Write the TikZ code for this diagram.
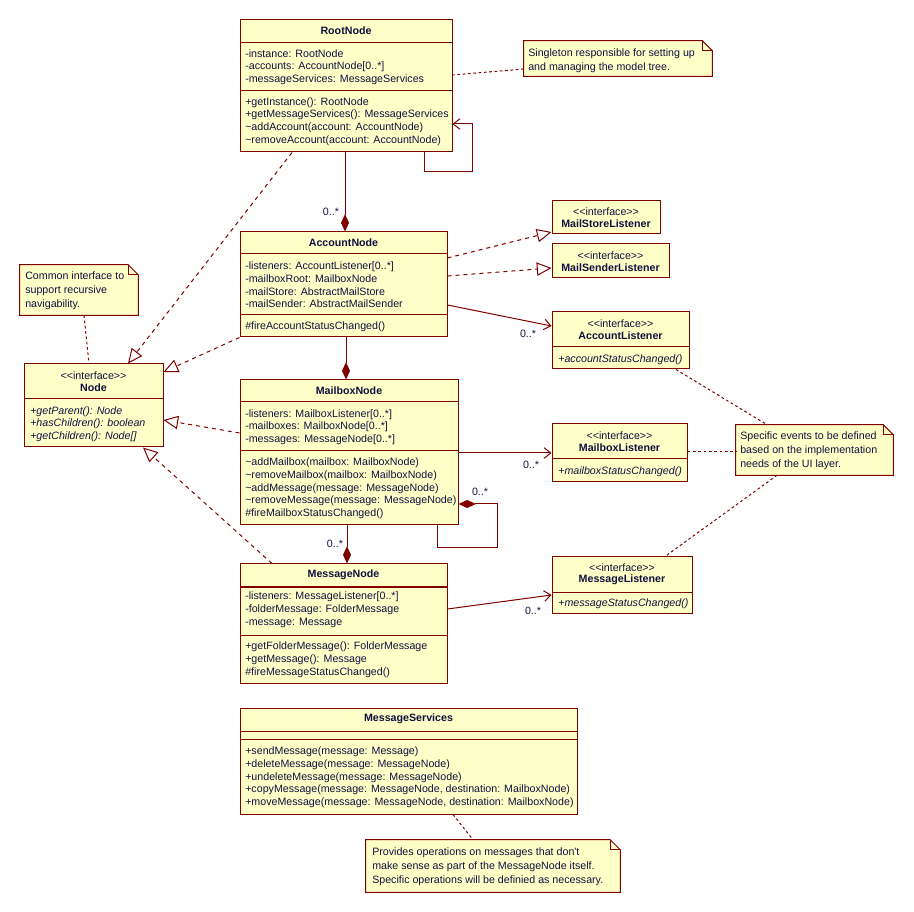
\documentclass[tikz,border=0pt]{standalone}
\usepackage{fontspec}
\setmainfont{Liberation Sans}[Ligatures=TeXOff]
\usetikzlibrary{arrows.meta, fit, positioning}
\definecolor{umlred}{RGB}{128,0,0}
\definecolor{umlfill}{RGB}{255,255,200}
\definecolor{umltext}{RGB}{16,16,64}

\begin{document}
\begin{tikzpicture}[x=0.75pt, y=-0.75pt,
	every node/.style={text=umltext},
	cls/.style={draw=umlred, fill=umlfill, line width=0.75pt, inner sep=0pt},
	notef/.style={draw=umlred, fill=umlfill, line width=0.75pt},
	sep/.style={draw=umlred, line width=0.75pt},
	ttl/.style={font=\bfseries\fontsize{8}{9.5}\selectfont},
	stereo/.style={font=\fontsize{8}{9.5}\selectfont},
	body/.style={anchor=north west, inner sep=0pt, align=left, font=\fontsize{8}{9.5}\selectfont},
	abody/.style={body, font=\itshape\fontsize{8}{9.5}\selectfont},
	ntext/.style={anchor=north west, inner sep=0pt, align=left, font=\fontsize{8}{10.5}\selectfont},
	mult/.style={inner sep=0pt, font=\fontsize{8}{9.5}\selectfont},
	assoc/.style={draw=umlred, line width=0.75pt, -{Straight Barb[length=5pt,width=8pt]}},
	comp/.style={draw=umlred, line width=0.75pt, -{Diamond[length=13pt,width=6pt]}},
	realize/.style={draw=umlred, line width=0.75pt, dash pattern=on 3pt off 3pt, -{Triangle[open,length=11pt,width=10pt]}},
	link/.style={draw=umlred, line width=0.75pt, dash pattern=on 2pt off 2pt}]
	\useasboundingbox (0,0) rectangle (914,912);
	
	% classes
	\node (root) [cls, fit={(240,20)(452,152)}] {};
	\draw[sep] (root.west |- 0,43) -- (root.east |- 0,43);
	\draw[sep] (root.west |- 0,91) -- (root.east |- 0,91);
	\node (rootT) at (root.north |- 0,31) [ttl] {RootNode};
	\node (rootA) at (245,48.1) [body] {\strut-instance: RootNode\\-accounts: AccountNode[0..*]\\-messageServices: MessageServices};
	\node (rootM) at (245,96.1) [body] {\strut+getInstance(): RootNode\\+getMessageServices(): MessageServices\\\textasciitilde addAccount(account: AccountNode)\\\textasciitilde removeAccount(account: AccountNode)};
	
	\node (account) [cls, fit={(240,232)(447,337)}] {};
	\draw[sep] (account.west |- 0,254) -- (account.east |- 0,254);
	\draw[sep] (account.west |- 0,315) -- (account.east |- 0,315);
	\node (accountT) at (account.north |- 0,243) [ttl] {AccountNode};
	\node (accountA) at (245,260.8) [body] {\strut-listeners: AccountListener[0..*]\\-mailboxRoot: MailboxNode\\-mailStore: AbstractMailStore\\-mailSender: AbstractMailSender};
	\node (accountM) at (245,320.1) [body] {\strut\#fireAccountStatusChanged()};
	
	\node (mailbox) [cls, fit={(240,380)(458,525)}] {};
	\draw[sep] (mailbox.west |- 0,402) -- (mailbox.east |- 0,402);
	\draw[sep] (mailbox.west |- 0,451) -- (mailbox.east |- 0,451);
	\node (mailboxT) at (mailbox.north |- 0,391) [ttl] {MailboxNode};
	\node (mailboxA) at (245,408.1) [body] {\strut-listeners: MailboxListener[0..*]\\-mailboxes: MailboxNode[0..*]\\-messages: MessageNode[0..*]};
	\node (mailboxM) at (245,456.8) [body] {\strut\textasciitilde addMailbox(mailbox: MailboxNode)\\\textasciitilde removeMailbox(mailbox: MailboxNode)\\\textasciitilde addMessage(message: MessageNode)\\\textasciitilde removeMessage(message: MessageNode)\\\#fireMailboxStatusChanged()};
	
	\node (message) [cls, fit={(240,564)(447,683)}] {};
	\draw[sep] (message.west |- 0,587) -- (message.east |- 0,587);
	\draw[sep] (message.west |- 0,635) -- (message.east |- 0,635);
	\node (messageT) at (message.north |- 0,575) [ttl] {MessageNode};
	\node (messageA) at (245,590.8) [body] {\strut-listeners: MessageListener[0..*]\\-folderMessage: FolderMessage\\-message: Message};
	\node (messageM) at (245,640.8) [body] {\strut+getFolderMessage(): FolderMessage\\+getMessage(): Message\\\#fireMessageStatusChanged()};
	
	\node (services) [cls, fit={(240,708)(577,814)}] {};
	\draw[sep] (services.west |- 0,731) -- (services.east |- 0,731);
	\draw[sep] (services.west |- 0,739) -- (services.east |- 0,739);
	\node (servicesT) at (services.north |- 0,719) [ttl] {MessageServices};
	\node (servicesM) at (245,745.8) [body] {\strut+sendMessage(message: Message)\\+deleteMessage(message: MessageNode)\\+undeleteMessage(message: MessageNode)\\+copyMessage(message: MessageNode, destination: MailboxNode)\\+moveMessage(message: MessageNode, destination: MailboxNode)};
	
	% interfaces
	\node (node) [cls, fit={(24,364)(163,447)}] {};
	\draw[sep] (node.west |- 0,399) -- (node.east |- 0,399);
	\node (nodeS) at (node.north |- 0,375.7) [stereo] {<<interface>>};
	\node (nodeT) at (node.north |- 0,388) [ttl] {Node};
	\node (nodeM) at (30,405.1) [abody] {\strut+getParent(): Node\\+hasChildren(): boolean\\+getChildren(): Node[]};
	
	\node (storeL) [cls, fit={(552,201)(660,234)}] {};
	\node (storeLS) at (storeL.north |- 0,211.7) [stereo] {<<interface>>};
	\node (storeLT) at (storeL.north |- 0,224) [ttl] {MailStoreListener};
	
	\node (senderL) [cls, fit={(552,244)(669,278)}] {};
	\node (senderLS) at (senderL.north |- 0,255.3) [stereo] {<<interface>>};
	\node (senderLT) at (senderL.north |- 0,267.7) [ttl] {MailSenderListener};
	
	\node (accountL) [cls, fit={(552,312)(689,369)}] {};
	\draw[sep] (accountL.west |- 0,347) -- (accountL.east |- 0,347);
	\node (accountLS) at (accountL.north |- 0,323.3) [stereo] {<<interface>>};
	\node (accountLT) at (accountL.north |- 0,336) [ttl] {AccountListener};
	\node (accountLM) at (558,353.4) [abody] {\strut+accountStatusChanged()};
	
	\node (mailboxL) [cls, fit={(552,424)(687,482)}] {};
	\draw[sep] (mailboxL.west |- 0,459) -- (mailboxL.east |- 0,459);
	\node (mailboxLS) at (mailboxL.north |- 0,435.3) [stereo] {<<interface>>};
	\node (mailboxLT) at (mailboxL.north |- 0,447.7) [ttl] {MailboxListener};
	\node (mailboxLM) at (558,465.1) [abody] {\strut+mailboxStatusChanged()};
	
	\node (messageL) [cls, fit={(552,557)(692,613)}] {};
	\draw[sep] (messageL.west |- 0,592) -- (messageL.east |- 0,592);
	\node (messageLS) at (messageL.north |- 0,567.3) [stereo] {<<interface>>};
	\node (messageLT) at (messageL.north |- 0,580) [ttl] {MessageListener};
	\node (messageLM) at (558,597.4) [abody] {\strut+messageStatusChanged()};
	
	% notes
	\node (snote) [fit={(524,41)(712,76)}, inner sep=0pt] {};
	\node (nnote) [fit={(20,265)(138,315)}, inner sep=0pt] {};
	\node (enote) [fit={(736,425)(893,475)}, inner sep=0pt] {};
	\node (vnote) [fit={(366,840)(620,892)}, inner sep=0pt] {};
	\foreach \n in {snote,nnote,enote,vnote}{
		\draw[notef] (\n.north west) -- ([xshift=-7.5pt]\n.north east) -- ([yshift=-7.5pt]\n.north east) -- (\n.south east) -- (\n.south west) -- cycle;
		\draw[sep] ([xshift=-7.5pt]\n.north east) |- ([yshift=-7.5pt]\n.north east);
	}
	\node (snoteX) at (528,46.2) [ntext] {\strut Singleton responsible for setting up\\and managing the model tree.};
	\node (nnoteX) at (25,269.5) [ntext] {\strut Common interface to\\support recursive\\navigability.};
	\node (enoteX) at (740,429.5) [ntext] {\strut Specific events to be defined\\based on the implementation\\needs of the UI layer.};
	\node (vnoteX) at (372,845.5) [ntext] {\strut Provides operations on messages that don't\\make sense as part of the MessageNode itself.\\Specific operations will be definied as necessary.};
	
	% connectors
	\coordinate (rootLoop) at (472,172);
	\coordinate (boxLoop) at (497,548);
	\draw[assoc] (root.south -| 424,0) |- (rootLoop) |- (root.east |- 0,124);
	\draw[comp] (root.south -| 345,0) -- (account.north -| 345,0);
	\draw[comp] (account.south -| 346,0) -- (mailbox.north -| 346,0);
	\draw[comp] (mailbox.south -| 347,0) -- (message.north -| 347,0);
	\draw[comp] (mailbox.south -| 437,0) |- (boxLoop) |- (mailbox.east |- 0,504);
	
	\draw[realize] (account.east |- 0,258) -- (storeL.west |- 0,232);
	\draw[realize] (account.east |- 0,276) -- (senderL.west |- 0,268);
	\draw[realize] (root.south -| 292,0) -- (node.north -| 128,0);
	\draw[realize] (account.south west) -- (node.east |- 0,372);
	\draw[realize] (mailbox.west |- 0,433) -- (node.east |- 0,420);
	\draw[realize] (message.north -| 272,0) -- (node.south -| 143,0);
	
	\draw[assoc] (account.east |- 0,305) -- (accountL.west |- 0,326);
	\draw[assoc] (mailbox.east |- 0,453) -- (mailboxL.west |- 0,453);
	\draw[assoc] (message.east |- 0,609) -- (messageL.west |- 0,595);
	
	\node (m1) at (331,212) [mult] {0..*};
	\node (m2) at (528,334) [mult] {0..*};
	\node (m3) at (531,465) [mult] {0..*};
	\node (m4) at (533,611) [mult] {0..*};
	\node (m5) at (480,492) [mult] {0..*};
	\node (m6) at (335,544) [mult] {0..*};
	
	\draw[link] (snote.west |- 0,69) -- (root.east |- 0,75);
	\draw[link] (nnote.south -| 84,0) -- (node.north -| 89,0);
	\draw[link] (accountL.south -| 676,0) -- (enote.north -| 767,0);
	\draw[link] (mailboxL.east |- 0,452) -- (enote.west |- 0,452);
	\draw[link] (enote.south -| 777,0) -- (messageL.north -| 665,0);
	\draw[link] (services.south -| 453,0) -- (vnote.north -| 473,0);
	
\end{tikzpicture}
\end{document}
